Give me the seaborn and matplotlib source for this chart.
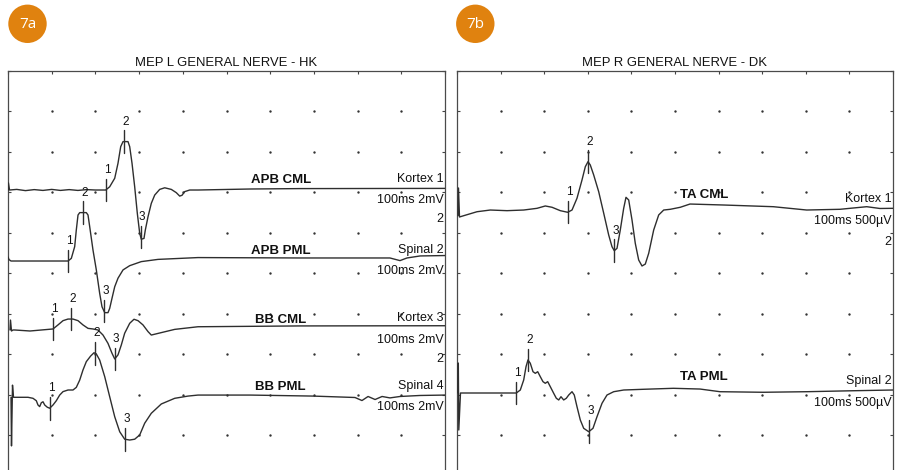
import numpy as np
import pandas as pd
import matplotlib
matplotlib.use("Agg")
import matplotlib.pyplot as plt
from matplotlib.patches import Circle
import seaborn as sns

# ---------------- MEP sweeps (latency in ms, amplitude in mV / µV) ----------------
# 7a: left side, 2 mV per division
apb_cml_t = [0, 0.1, 0.35, 2, 4, 6, 8, 10, 12, 14, 16, 18, 20, 22.36, 23.27, 24.42, 25.17,
             25.79, 26.32, 27.46, 27.85, 28.38, 28.99, 29.59, 30.14, 30.50, 31.12, 31.42,
             32.04, 32.79, 33.57, 34.71, 35.86, 37.37, 38.51, 39.29, 39.82, 40.43, 41.58,
             43.48, 55.4, 66.8, 100]
apb_cml_mv = [0, 0.35, 0, 0.03, -0.03, 0.02, -0.02, 0.03, -0.02, 0.02, -0.02, 0.02, 0, 0,
              0.16, 0.58, 1.32, 2.14, 2.39, 2.39, 2.14, 1.32, 0.16, -1.15, -2.14, -2.43,
              -2.39, -1.98, -1.32, -0.66, -0.25, 0.03, 0.11, 0.03, -0.13, -0.30, -0.26,
              -0.08, 0, 0, 0.05, 0.07, 0.08]
apb_cml_marks = [22.36, 26.54, 30.37]

apb_pml_t = [0, 0.23, 0.69, 13.73, 14.49, 15.26, 15.63, 16.02, 16.41, 17.92, 18.31, 18.70,
             19.45, 20.21, 20.98, 21.51, 22.13, 22.88, 23.27, 23.80, 24.42, 25.17, 26.32,
             27.85, 30.50, 34.32, 43.48, 66.8, 87.4, 89.7, 91.3, 94.3, 100]
apb_pml_mv = [0.2, 0.07, 0, 0, 0.13, 0.71, 1.53, 2.27, 2.39, 2.39, 2.27, 1.69, 0.54, -0.44,
              -1.60, -2.26, -2.55, -2.55, -2.34, -1.84, -1.27, -0.85, -0.44, -0.23, -0.03,
              0.08, 0.17, 0.15, 0.15, 0.02, 0.15, 0.25, 0.27]
apb_pml_marks = [13.73, 17.16, 21.97]

bb_cml_t = [0.46, 0.57, 0.80, 1.14, 1.53, 5.03, 10.30, 11.44, 12.59, 13.73, 14.87, 16.02,
            17.16, 18.31, 19.45, 20.59, 21.74, 22.88, 23.80, 24.42, 25.17, 25.93, 26.70,
            27.85, 28.83, 29.75, 30.89, 32.04, 32.79, 35.08, 38.15, 43.48, 66.8, 100]
bb_cml_mv = [0, 0.49, -0.05, 0, 0, -0.05, 0.05, 0.25, 0.46, 0.54, 0.54, 0.46, 0.25, 0.08,
             0.05, 0, -0.25, -0.66, -1.15, -1.43, -1.23, -0.74, -0.16, 0.33, 0.53, 0.46,
             0.25, -0.08, -0.25, -0.13, 0.03, 0.16, 0.20, 0.21]
bb_cml_marks = [10.30, 14.49, 24.42]

bb_pml_t = [0.69, 0.80, 1.03, 1.26, 1.53, 4.58, 5.72, 6.48, 6.86, 7.25, 7.62, 8.01, 8.40,
            8.99, 9.54, 10.30, 11.05, 11.83, 12.59, 13.73, 14.87, 15.63, 16.41, 17.16,
            17.92, 18.92, 19.68, 20.21, 20.98, 22.13, 23.27, 24.42, 25.56, 26.70, 27.85,
            28.99, 30.14, 31.28, 32.79, 35.08, 38.15, 41.19, 43.48, 55.4, 69.8, 79.4, 81.0,
            82.4, 84.0, 85.6, 87.4, 89.7, 94.3, 100]
bb_pml_mv = [0, -2.40, 0.60, 0, 0, 0, -0.05, -0.17, -0.38, -0.46, -0.27, -0.22, -0.38,
             -0.49, -0.54, -0.38, -0.17, 0.11, 0.28, 0.36, 0.36, 0.49, 0.85, 1.35, 1.76,
             2.04, 2.20, 2.14, 1.84, 1.02, 0.03, -0.96, -1.70, -2.07, -2.11, -2.07, -1.86,
             -1.28, -0.79, -0.33, -0.05, 0.06, 0.11, 0.11, 0.06, -0.01, -0.16, 0.04, -0.11,
             0.04, -0.03, 0.04, 0.09, 0.11]
bb_pml_marks = [9.54, 19.98, 26.84]

# 7b: right side, 500 µV per division
ta_cml_t = [0.23, 0.34, 0.57, 1.54, 4.59, 7.64, 11.47, 15.30, 18.35, 20.25, 21.79, 23.69,
            25.39, 26.38, 27.52, 28.67, 29.43, 30.05, 30.57, 31.35, 32.50, 33.65, 34.79,
            35.55, 36.08, 36.70, 37.45, 38.23, 38.76, 39.38, 40.14, 40.89, 41.67, 42.43,
            43.19, 43.97, 45.11, 46.26, 47.41, 48.92, 51.22, 53.44, 61.08, 72.55, 80.21,
            87.84, 93.97, 97.0, 100]
ta_cml_uv = [-58, 284, -74, -58, -9, 12, 4, 12, 33, 62, 46, 4, -16, 12, 157, 383, 547, 609,
             568, 445, 238, -28, -296, -441, -490, -461, -235, 33, 169, 136, -111, -399,
             -605, -679, -655, -522, -235, -49, 12, 21, 46, 86, 74, 53, 12, 21, 53, 31, 33]
ta_cml_marks = [25.46, 30.05, 36.08]

ta_pml_t = [0.23, 0.30, 0.41, 0.80, 13.60, 14.52, 15.30, 15.83, 16.28, 16.81, 17.43, 17.96,
            18.51, 19.11, 19.72, 20.25, 20.80, 21.40, 22.18, 22.78, 23.33, 23.85, 24.47,
            25.07, 25.62, 26.38, 26.90, 27.52, 28.28, 29.06, 30.21, 31.19, 32.11, 33.26,
            34.40, 35.94, 38.23, 42.82, 49.61, 55.73, 60.32, 70.25, 80.21, 90.90, 100]
ta_pml_uv = [0, 370, -457, 0, 0, 37, 161, 325, 408, 367, 263, 243, 263, 201, 140, 120, 140,
             78, -4, -65, -86, -46, -86, -65, -25, 16, -25, -169, -333, -436, -478, -436,
             -293, -127, -25, 16, 37, 46, 58, 49, 16, 9, 16, 28, 37]
ta_pml_marks = [13.60, 16.28, 30.34]

# Labels
panel_titles = ["MEP L GENERAL NERVE - HK", "MEP R GENERAL NERVE - DK"]
panel_badges = ["7a", "7b"]
left_names = ["APB CML", "APB PML", "BB CML", "BB PML"]
left_channels = ["Kortex 1", "Spinal 2", "Kortex 3", "Spinal 4"]
left_scale = "100ms 2mV"
right_names = ["TA CML", "TA PML"]
right_channels = ["Kortex 1", "Spinal 2"]
right_scale = "100ms 500µV"

# ---------------- style ----------------
sns.set_style("white")
plt.rcParams["font.family"] = ["Liberation Sans", "DejaVu Sans"]

INK = "#2e2e2e"
ORANGE = "#E0820F"
W, H = 898, 470
fig = plt.figure(figsize=(W / 100, H / 100), dpi=100)

# overlay in pixel units for badges and titles
over = fig.add_axes([0, 0, 1, 1], zorder=0)
over.set_xlim(0, W)
over.set_ylim(H, 0)
over.axis("off")

TOP = 70.5      # top frame (px)
DIV = 40.5      # one division (px)


def panel_axes(x0, width):
    ax = fig.add_axes([x0 / W, 1 - (TOP + 10 * DIV) / H, width / W, 10 * DIV / H], zorder=1)
    ax.set_facecolor("none")
    ax.set_xlim(0, 100)
    ax.set_ylim(10, 0)
    ax.set_xticks(np.arange(0, 101, 10))
    ax.set_yticks(np.arange(0, 11, 1))
    ax.tick_params(direction="in", length=2, width=0.8, color="#444",
                   top=True, right=True, bottom=True, left=True,
                   labelbottom=False, labelleft=False)
    for s in ax.spines.values():
        s.set_color("#4a4a4a")
        s.set_linewidth(0.9)
    gx, gy = np.meshgrid(np.arange(10, 100, 10), np.arange(1, 10))
    ax.scatter(gx.ravel(), gy.ravel(), s=3, color="#333", linewidths=0, zorder=1)
    return ax


def draw_trace(ax, t, amp, base, sens, marks):
    y = base - np.asarray(amp, dtype=float) / sens
    df = pd.DataFrame({"t": t, "y": y})
    sns.lineplot(data=df, x="t", y="y", ax=ax, color=INK, linewidth=1.0,
                 sort=False, estimator=None, zorder=3)
    for i, lat in enumerate(marks, 1):
        yv = np.interp(lat, df["t"], df["y"])
        ax.plot([lat, lat], [yv - 0.28, yv + 0.28], color=INK, lw=1.0, zorder=3)
        ax.text(lat + 0.3, yv - 0.42, str(i), ha="center", va="baseline",
                fontsize=8.5, color="#111")
    ax.set_xlabel("")
    ax.set_ylabel("")


def label_trace(ax, base, name, channel, scale, name_x, name_dy, extra=False, extra_dy=0.79):
    ax.text(name_x, base + name_dy, name, ha="center", va="baseline",
            fontsize=9.5, fontweight="bold", color="#111")
    ax.text(99.7, base - 0.21, channel, ha="right", va="baseline", fontsize=9, color="#111")
    ax.text(99.7, base + 0.32, scale, ha="right", va="baseline", fontsize=9, color="#111")
    if extra:
        ax.text(99.7, base + extra_dy, "2", ha="right", va="baseline",
                fontsize=9, color="#111")


# ---------------- 7a ----------------
axL = panel_axes(8, 437)
left_traces = [
    (apb_cml_t, apb_cml_mv, 2.951, apb_cml_marks, True),
    (apb_pml_t, apb_pml_mv, 4.704, apb_pml_marks, False),
    (bb_cml_t, bb_cml_mv, 6.407, bb_cml_marks, True),
    (bb_pml_t, bb_pml_mv, 8.069, bb_pml_marks, False),
]
for (t, a, base, marks, extra), nm, ch in zip(left_traces, left_names, left_channels):
    draw_trace(axL, t, a, base, 2.0, marks)
    label_trace(axL, base, nm, ch, left_scale, 62.4, -0.18, extra)

# ---------------- 7b ----------------
axR = panel_axes(457, 436)
right_traces = [
    (ta_cml_t, ta_cml_uv, 3.469, ta_cml_marks, True),
    (ta_pml_t, ta_pml_uv, 7.963, ta_pml_marks, False),
]
for (t, a, base, marks, extra), nm, ch in zip(right_traces, right_names, right_channels):
    draw_trace(axR, t, a, base, 500.0, marks)
    label_trace(axR, base, nm, ch, right_scale, 56.7, -0.33, extra, 0.83)

# ---------------- titles and badges ----------------
for cx, title in zip([226.5, 675], panel_titles):
    over.text(cx, 66.4, title, ha="center", va="baseline", fontsize=9.4, color="#111")
for cx, badge in zip([27.5, 475.3], panel_badges):
    over.add_patch(Circle((cx, 23.8), 19.2, color=ORANGE, lw=0))
    over.text(cx, 24.3, badge, ha="center", va="center", fontsize=11,
              color="white", family=["Open Sans", "DejaVu Sans"])

fig.savefig("out.png", dpi=100, facecolor="white")
